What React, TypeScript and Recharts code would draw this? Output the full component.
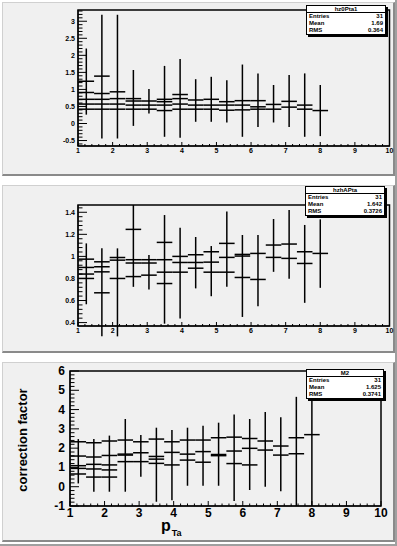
import { ErrorBar, ReferenceArea, Scatter, ScatterChart, XAxis, YAxis } from "recharts";

// bin centres in p_Ta, each bin is 0.45 wide
const binCenters = [1.24, 1.69, 2.14, 2.6, 3.05, 3.5, 3.95, 4.4, 4.85, 5.3, 5.75, 6.2, 6.65, 7.1, 7.55, 8.0];
const binHalfWidth = 0.225;

const xMajor = [1, 2, 3, 4, 5, 6, 7, 8, 9, 10];

// pad 1 : hz0Pta1
const pad1Series: (number | null)[][] = [
  [1.24, 1.39, 0.93, 0.73, 0.66, 0.71, 0.85, 0.69, 0.71, 0.64, 0.67, 0.67, 0.56, 0.65, 0.54, 0.38],
  [0.91, 0.88, 0.73, 0.66, 0.54, 0.64, 0.73, 0.54, 0.54, 0.54, 0.54, 0.49, 0.42, 0.48, 0.42, null],
  [0.71, 0.71, 0.57, 0.54, 0.42, 0.54, 0.57, 0.42, 0.42, 0.39, 0.4, 0.42, null, null, null, null],
  [0.57, 0.57, 0.42, 0.42, null, 0.38, 0.42, null, null, null, null, null, null, null, null, null],
  [0.42, 0.42, null, null, null, null, null, null, null, null, null, null, null, null, null, null],
];
const pad1ErrLow = [0.26, -0.44, -0.44, -0.07, 0.29, -0.39, -0.42, 0.05, 0.05, 0.03, -0.39, -0.1, 0.03, -0.1, -0.39, -0.37];
const pad1ErrHigh = [2.2, 3.19, 3.19, 1.57, 1.01, 1.69, 1.89, 1.3, 1.37, 1.27, 1.73, 1.47, 1.13, 1.42, 1.47, 1.13];
const pad1YMajor = [-0.5, 0, 0.5, 1, 1.5, 2, 2.5, 3];

// pad 2 : hzhAPta
const pad2Series: (number | null)[][] = [
  [0.975, 0.951, 0.99, 1.245, 0.97, 1.127, 1.0, 1.015, 1.042, 1.118, 1.018, 1.027, 1.103, 1.112, 1.042, 1.027],
  [0.9, 0.906, 0.966, 0.97, 0.94, 0.97, 0.945, 0.945, 0.948, 0.991, 1.003, 0.791, 0.991, 0.982, 0.936, null],
  [0.84, 0.86, 0.8, 0.94, 0.83, 0.857, 0.857, 0.893, 0.857, 0.857, 0.809, null, null, null, null, null],
  [0.8, 0.67, null, 0.817, null, 0.754, null, null, null, null, null, null, null, null, null, null],
];
const pad2ErrLow = [0.566, 0.275, 0.275, 0.724, 0.7, 0.39, 0.436, 0.71, 0.639, 0.724, 0.451, 0.548, 0.86, 0.797, 0.579, 0.715];
const pad2ErrHigh = [1.118, 1.073, 1.073, 1.466, 1.012, 1.375, 1.26, 1.176, 1.094, 1.406, 1.194, 1.194, 1.339, 1.421, 1.285, 1.336];
const pad2YMajor = [0.4, 0.6, 0.8, 1, 1.2, 1.4];

// pad 3 : M2
const pad3Series: (number | null)[][] = [
  [2.33, 2.28, 2.37, 2.42, 2.33, 2.47, 2.33, 2.42, 2.42, 2.54, 2.57, 2.5, 2.37, 2.11, 2.54, 2.7],
  [1.59, 1.54, 1.62, 1.69, 1.76, 1.57, 1.78, 1.69, 1.82, 1.67, 1.85, 1.99, 1.9, 1.64, 1.71, null],
  [1.09, 1.16, 1.13, 1.64, 1.3, 1.43, 1.13, 1.38, 1.27, 1.61, 1.2, 1.13, null, null, null, null],
  [0.95, 0.92, 0.87, 1.3, null, 1.21, null, null, null, null, null, null, null, null, null, null],
  [0.66, 0.5, 0.5, null, null, null, null, null, null, null, null, null, null, null, null, null],
];
const pad3ErrLow = [0.17, -0.26, -0.26, -0.26, 0.52, -0.78, -0.7, 0.05, 0.05, 0.05, -0.74, -0.17, 0.0, -0.24, -1.0, -1.0];
const pad3ErrHigh = [2.47, 2.47, 2.65, 3.51, 2.68, 3.06, 2.94, 3.06, 3.16, 3.32, 3.75, 3.51, 3.87, 3.6, 4.66, 6.0];
const pad3YMajor = [-1, 0, 1, 2, 3, 4, 5, 6];

const statNames = ["hz0Pta1", "hzhAPta", "M2"];
const statEntries = [31, 31, 31];
const statMeans = ["1.69", "1.642", "1.625"];
const statRms = ["0.364", "0.3726", "0.3741"];

const FONT = "'Liberation Sans', Arial, sans-serif";

function steps(min: number, max: number, step: number) {
  const out: number[] = [];
  for (let v = Math.ceil(min / step - 1e-6) * step; v <= max + 1e-9; v += step) {
    out.push(Math.round(v * 1000) / 1000);
  }
  return out;
}

const isMajor = (v: number, majors: number[]) => majors.some((m) => Math.abs(m - v) < 1e-6);
const fmt = (v: number) => String(Math.round(v * 100) / 100);

interface PadProps {
  idx: number;
  x: number;
  y: number;
  w: number;
  h: number;
  top: number;
  right: number;
  yAxisWidth: number;
  xAxisHeight: number;
  yDomain: [number, number];
  yMajor: number[];
  yMinorStep: number;
  series: (number | null)[][];
  errLow: number[];
  errHigh: number[];
  fontSize: number;
  yMajorLen: number;
  yMinorLen: number;
  xMajorLen: number;
  xMinorLen: number;
  xLabelGap: number;
  yLabelGap: number;
  stat: { left: number; top: number; w: number };
}

function Pad(p: PadProps) {
  const xTicks = steps(1, 10, 0.2);
  const yTicks = steps(p.yDomain[0], p.yDomain[1], p.yMinorStep);

  const XTick = (props: any) => {
    const { x, y, payload } = props;
    const major = isMajor(payload.value, xMajor);
    return (
      <g>
        <line x1={x} x2={x} y1={y} y2={y - (major ? p.xMajorLen : p.xMinorLen)} stroke="#000" />
        {major && (
          <text x={x} y={y + p.xLabelGap} textAnchor="middle" dominantBaseline="hanging"
            fontSize={p.fontSize} fontWeight="bold" fontFamily={FONT} fill="#000">
            {fmt(payload.value)}
          </text>
        )}
      </g>
    );
  };

  const YTick = (props: any) => {
    const { x, y, payload } = props;
    const major = isMajor(payload.value, p.yMajor);
    return (
      <g>
        <line x1={x} x2={x + (major ? p.yMajorLen : p.yMinorLen)} y1={y} y2={y} stroke="#000" />
        {major && (
          <text x={x - p.yLabelGap} y={y} textAnchor="end" dominantBaseline="central"
            fontSize={p.fontSize} fontWeight="bold" fontFamily={FONT} fill="#000">
            {fmt(payload.value)}
          </text>
        )}
      </g>
    );
  };

  const data = p.series.map((s, si) =>
    binCenters
      .map((bx, i) => ({
        x: bx,
        y: s[i],
        ex: binHalfWidth,
        ey: si === 0 && s[i] != null ? [(s[i] as number) - p.errLow[i], p.errHigh[i] - (s[i] as number)] : undefined,
      }))
      .filter((d) => d.y != null)
  );

  return (
    <>
      <div
        style={{
          position: "absolute",
          left: p.x,
          top: p.y,
          width: p.w,
          height: p.h,
          boxSizing: "border-box",
          background: "#f0f0f0",
          borderTop: "1px solid #d0d0d0",
          borderLeft: "1px solid #d0d0d0",
          borderRight: "2px solid #8a8a8a",
          borderBottom: "2px solid #8a8a8a",
        }}
      />
      <div style={{ position: "absolute", left: p.x, top: p.y }}>
        <ScatterChart width={p.w} height={p.h} margin={{ top: p.top, right: p.right, bottom: 0, left: 0 }}>
          <XAxis
            type="number"
            dataKey="x"
            domain={[1, 10]}
            allowDataOverflow
            ticks={xTicks}
            interval={0}
            height={p.xAxisHeight}
            tickLine={false}
            tickSize={0}
            tickMargin={0}
            tick={XTick}
            axisLine={{ stroke: "#000" }}
          />
          <YAxis
            type="number"
            dataKey="y"
            domain={p.yDomain}
            allowDataOverflow
            ticks={yTicks}
            interval={0}
            width={p.yAxisWidth}
            tickLine={false}
            tickSize={0}
            tickMargin={0}
            tick={YTick}
            axisLine={{ stroke: "#000" }}
          />
          <ReferenceArea x1={1} x2={10} y1={p.yDomain[0]} y2={p.yDomain[1]} fill="none" stroke="#000" strokeWidth={1.5} />
          {data.map((d, si) => (
            <Scatter key={si} data={d} shape={() => <g />} isAnimationActive={false} legendType="none">
              <ErrorBar dataKey="ex" direction="x" width={0} stroke="#000" strokeWidth={1.5} />
              {si === 0 && <ErrorBar dataKey="ey" direction="y" width={0} stroke="#000" strokeWidth={1.5} />}
            </Scatter>
          ))}
        </ScatterChart>
      </div>
      <StatBox idx={p.idx} {...p.stat} />
    </>
  );
}

function StatBox({ idx, left, top, w }: { idx: number; left: number; top: number; w: number }) {
  const row = { display: "flex", justifyContent: "space-between", height: 7, lineHeight: "7px", padding: "0 2px" };
  return (
    <div
      style={{
        position: "absolute",
        left,
        top,
        width: w,
        boxSizing: "border-box",
        background: "#fff",
        border: "1px solid #000",
        boxShadow: "2px 2px 0 #000",
        fontFamily: FONT,
        fontSize: 6,
        fontWeight: "bold",
        color: "#000",
      }}
    >
      <div style={{ textAlign: "center", height: 6, lineHeight: "6px", borderBottom: "1px solid #000" }}>{statNames[idx]}</div>
      <div style={row}><span>Entries</span><span>{statEntries[idx]}</span></div>
      <div style={row}><span>Mean</span><span>{statMeans[idx]}</span></div>
      <div style={row}><span>RMS</span><span>{statRms[idx]}</span></div>
    </div>
  );
}

export default function App() {
  return (
    <div
      style={{
        position: "absolute",
        left: 0,
        top: 0,
        width: 397,
        height: 546,
        background: "#ffffff",
        overflow: "hidden",
        boxSizing: "border-box",
        borderRight: "2px solid #a0a0a0",
        borderBottom: "2px solid #a0a0a0",
      }}
    >
      <Pad
        idx={0}
        x={2} y={2} w={393} h={174}
        top={8} right={5.5} yAxisWidth={76} xAxisHeight={30}
        yDomain={[-0.66, 3.33]} yMajor={pad1YMajor} yMinorStep={0.1}
        series={pad1Series} errLow={pad1ErrLow} errHigh={pad1ErrHigh}
        fontSize={7} yMajorLen={9} yMinorLen={4.5} xMajorLen={4} xMinorLen={2} xLabelGap={2} yLabelGap={3}
        stat={{ left: 306, top: 5, w: 80 }}
      />
      <Pad
        idx={1}
        x={2} y={185} w={393} h={168}
        top={20} right={5.5} yAxisWidth={76} xAxisHeight={27}
        yDomain={[0.369, 1.466]} yMajor={pad2YMajor} yMinorStep={0.04}
        series={pad2Series} errLow={pad2ErrLow} errHigh={pad2ErrHigh}
        fontSize={7} yMajorLen={9} yMinorLen={4.5} xMajorLen={4} xMinorLen={2} xLabelGap={2} yLabelGap={3}
        stat={{ left: 305, top: 186, w: 80 }}
      />
      <Pad
        idx={2}
        x={2} y={362} w={393} h={180}
        top={9} right={14} yAxisWidth={68} xAxisHeight={36}
        yDomain={[-1, 6]} yMajor={pad3YMajor} yMinorStep={0.2}
        series={pad3Series} errLow={pad3ErrLow} errHigh={pad3ErrHigh}
        fontSize={12} yMajorLen={9} yMinorLen={4.5} xMajorLen={5} xMinorLen={2.5} xLabelGap={2} yLabelGap={5}
        stat={{ left: 306, top: 369, w: 78 }}
      />
      <div
        style={{
          position: "absolute",
          left: 22,
          top: 440,
          transform: "translate(-50%, -50%) rotate(-90deg)",
          whiteSpace: "nowrap",
          fontFamily: FONT,
          fontWeight: "bold",
          fontSize: 13,
          color: "#000",
        }}
      >
        correction factor
      </div>
      <div
        style={{
          position: "absolute",
          left: 161,
          top: 519,
          fontFamily: FONT,
          fontWeight: "bold",
          fontSize: 16,
          lineHeight: "14px",
          color: "#000",
          whiteSpace: "nowrap",
        }}
      >
        p<span style={{ fontSize: 9, position: "relative", top: 5, marginLeft: 1 }}>Ta</span>
      </div>
    </div>
  );
}
